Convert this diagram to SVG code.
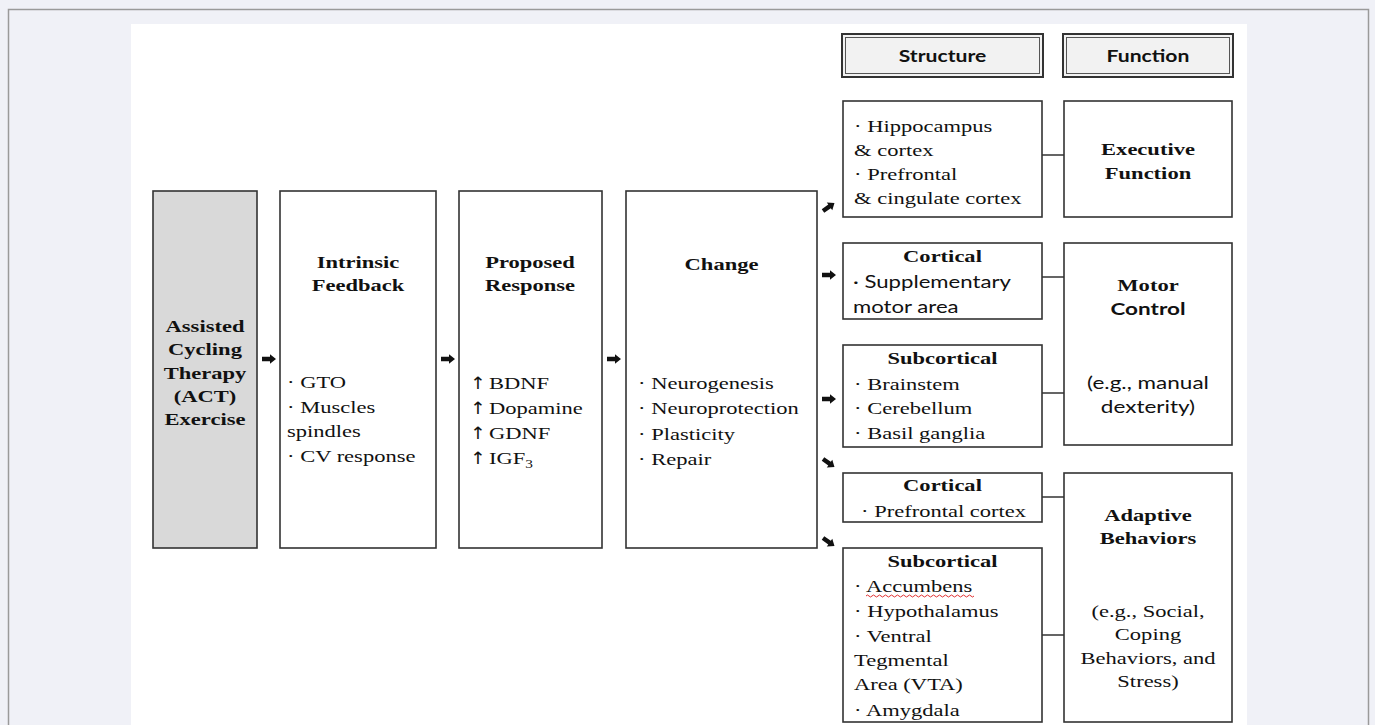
<svg xmlns="http://www.w3.org/2000/svg" width="1375" height="725" viewBox="0 0 1375 725">
<style>
.box{fill:#fff;stroke:#333;stroke-width:1.6}
.grey{fill:#d9d9d9}
.hdr{fill:#f2f2f2;stroke:#333;stroke-width:2}
.hdrin{fill:none;stroke:#555;stroke-width:1}
.con{stroke:#333;stroke-width:1.5;fill:none}
.arr{fill:#111}
text{fill:#111}
.b{font-family:"Liberation Serif","Times New Roman",serif;font-weight:bold;font-size:17.6px}
.r{font-family:"Liberation Serif","Times New Roman",serif;font-size:17.6px}
.s{font-family:Lato,"Liberation Sans",sans-serif;font-size:17.6px}
.sb{font-family:Lato,"Liberation Sans",sans-serif;font-weight:bold;font-size:17.6px}
.m{text-anchor:middle}
.up{font-family:"DejaVu Sans",sans-serif;font-size:17px;fill:#111}
</style>
<defs>
<path id="ar" d="M0,-2.2 L8,-2.2 L8,-4.8 L14,0 L8,4.8 L8,2.2 L0,2.2 Z"/>
</defs>
<rect x="0" y="0" width="1375" height="725" fill="#f0f1f7"/>
<path d="M8.5,725 V9.5 H1368.5 V725" fill="none" stroke="#9a9a9a" stroke-width="1.5"/>
<rect x="131" y="24" width="1116" height="701" fill="#fff"/>

<g id="act">
<rect class="box grey" x="153" y="191" width="104" height="357"/>
<text class="b m" transform="translate(205 332) scale(1.28 1)"><tspan x="0" y="0">Assisted</tspan><tspan x="0" y="23.3">Cycling</tspan><tspan x="0" y="46.6">Therapy</tspan><tspan x="0" y="69.9">(ACT)</tspan><tspan x="0" y="93.2">Exercise</tspan></text>
</g>

<g id="intrinsic">
<rect class="box" x="280" y="191" width="156" height="357"/>
<text class="b m" transform="translate(358 268) scale(1.28 1)"><tspan x="0" y="0">Intrinsic</tspan><tspan x="0" y="23.5">Feedback</tspan></text>
<text class="r" transform="translate(287 388) scale(1.28 1)"><tspan x="0" y="0">· GTO</tspan><tspan x="0" y="24.7">· Muscles</tspan><tspan x="0" y="49.4">spindles</tspan><tspan x="0" y="74.1">· CV response</tspan></text>
</g>

<g id="proposed">
<rect class="box" x="459" y="191" width="143" height="357"/>
<text class="b m" transform="translate(530 268) scale(1.28 1)"><tspan x="0" y="0">Proposed</tspan><tspan x="0" y="23.5">Response</tspan></text>
<text class="up" transform="translate(470 389) scale(1.1 1)"><tspan x="0" y="0">↑</tspan><tspan x="0" y="25">↑</tspan><tspan x="0" y="50">↑</tspan><tspan x="0" y="75">↑</tspan></text>
<text class="r" transform="translate(489 389) scale(1.28 1)"><tspan x="0" y="0">BDNF</tspan><tspan x="0" y="25">Dopamine</tspan><tspan x="0" y="50">GDNF</tspan><tspan x="0" y="75">IGF</tspan><tspan font-size="12" dy="4">3</tspan></text>
</g>

<g id="change">
<rect class="box" x="626" y="191" width="191" height="357"/>
<text class="b m" transform="translate(721.5 270) scale(1.28 1)">Change</text>
<text class="r" transform="translate(638 389) scale(1.28 1)"><tspan x="0" y="0">· Neurogenesis</tspan><tspan x="0" y="25.3">· Neuroprotection</tspan><tspan x="0" y="50.6">· Plasticity</tspan><tspan x="0" y="75.9">· Repair</tspan></text>
</g>

<g id="hdr-structure">
<rect class="hdr" x="842" y="34" width="201" height="43"/>
<rect class="hdrin" x="845.5" y="37.5" width="194" height="36"/>
<text class="sb m" transform="translate(942.5 61.5) scale(1.2 1)">Structure</text>
</g>
<g id="hdr-function">
<rect class="hdr" x="1063" y="34" width="170" height="43"/>
<rect class="hdrin" x="1066.5" y="37.5" width="163" height="36"/>
<text class="sb m" transform="translate(1148 61.5) scale(1.2 1)">Function</text>
</g>

<g id="hippocampus">
<rect class="box" x="843" y="101" width="199" height="116"/>
<text class="r" transform="translate(854 132) scale(1.28 1)"><tspan x="0" y="0">· Hippocampus</tspan><tspan x="0" y="24">&amp; cortex</tspan><tspan x="0" y="48">· Prefrontal</tspan><tspan x="0" y="72">&amp; cingulate cortex</tspan></text>
</g>
<g id="executive">
<rect class="box" x="1064" y="101" width="168" height="116"/>
<text class="b m" transform="translate(1148 155) scale(1.28 1)"><tspan x="0" y="0">Executive</tspan><tspan x="0" y="24">Function</tspan></text>
</g>

<g id="cortical1">
<rect class="box" x="843" y="243" width="199" height="76"/>
<text class="b m" transform="translate(942.5 262) scale(1.28 1)">Cortical</text>
<text class="s" transform="translate(853 288) scale(1.26 1)"><tspan x="0" y="0">· Supplementary</tspan><tspan x="0" y="25">motor area</tspan></text>
</g>
<g id="subcortical1">
<rect class="box" x="843" y="345" width="199" height="102"/>
<text class="b m" transform="translate(942.5 364) scale(1.28 1)">Subcortical</text>
<text class="r" transform="translate(854 390) scale(1.28 1)"><tspan x="0" y="0">· Brainstem</tspan><tspan x="0" y="24.5">· Cerebellum</tspan><tspan x="0" y="49">· Basil ganglia</tspan></text>
</g>
<g id="motor">
<rect class="box" x="1064" y="243" width="168" height="202"/>
<text class="b m" transform="translate(1148 291) scale(1.28 1)">Motor</text>
<text class="sb m" transform="translate(1148 315) scale(1.28 1)">Control</text>
<text class="s m" transform="translate(1148 389) scale(1.28 1)"><tspan x="0" y="0">(e.g., manual</tspan><tspan x="0" y="24">dexterity)</tspan></text>
</g>

<g id="cortical2">
<rect class="box" x="843" y="473" width="199" height="49"/>
<text class="b m" transform="translate(942.5 491) scale(1.28 1)">Cortical</text>
<text class="r" transform="translate(861 517) scale(1.28 1)">· Prefrontal cortex</text>
</g>
<g id="subcortical2">
<rect class="box" x="843" y="548" width="199" height="174"/>
<text class="b m" transform="translate(942.5 567) scale(1.28 1)">Subcortical</text>
<text class="r" transform="translate(854 592) scale(1.28 1)"><tspan x="0" y="0">· Accumbens</tspan><tspan x="0" y="25">· Hypothalamus</tspan><tspan x="0" y="50">· Ventral</tspan><tspan x="0" y="74">Tegmental</tspan><tspan x="0" y="98.5">Area (VTA)</tspan><tspan x="0" y="124">· Amygdala</tspan></text>
<path d="M866,596 q1.5,-2 3,0 t3,0 t3,0 t3,0 t3,0 t3,0 t3,0 t3,0 t3,0 t3,0 t3,0 t3,0 t3,0 t3,0 t3,0 t3,0 t3,0 t3,0 t3,0 t3,0 t3,0 t3,0 t3,0 t3,0 t3,0 t3,0 t3,0 t3,0 t3,0 t3,0 t3,0 t3,0 t3,0 t3,0 t3,0 t3,0" fill="none" stroke="#e03030" stroke-width="1"/>
</g>
<g id="adaptive">
<rect class="box" x="1064" y="473" width="168" height="249"/>
<text class="b m" transform="translate(1148 521) scale(1.28 1)"><tspan x="0" y="0">Adaptive</tspan><tspan x="0" y="23.5">Behaviors</tspan></text>
<text class="r m" transform="translate(1148 617) scale(1.28 1)"><tspan x="0" y="0">(e.g., Social,</tspan><tspan x="0" y="23.5">Coping</tspan><tspan x="0" y="47">Behaviors, and</tspan><tspan x="0" y="70.5">Stress)</tspan></text>
</g>

<g id="connectors">
<path class="con" d="M1042,155 H1064 M1042,277 H1064 M1042,393 H1064 M1042,497 H1064 M1042,635 H1064"/>
<use href="#ar" class="arr" transform="translate(262 359)"/>
<use href="#ar" class="arr" transform="translate(441 359)"/>
<use href="#ar" class="arr" transform="translate(607 359)"/>
<use href="#ar" class="arr" transform="translate(823 211) rotate(-35)"/>
<use href="#ar" class="arr" transform="translate(822 275)"/>
<use href="#ar" class="arr" transform="translate(822 399)"/>
<use href="#ar" class="arr" transform="translate(823 459) rotate(35)"/>
<use href="#ar" class="arr" transform="translate(823 538) rotate(35)"/>
</g>
</svg>
